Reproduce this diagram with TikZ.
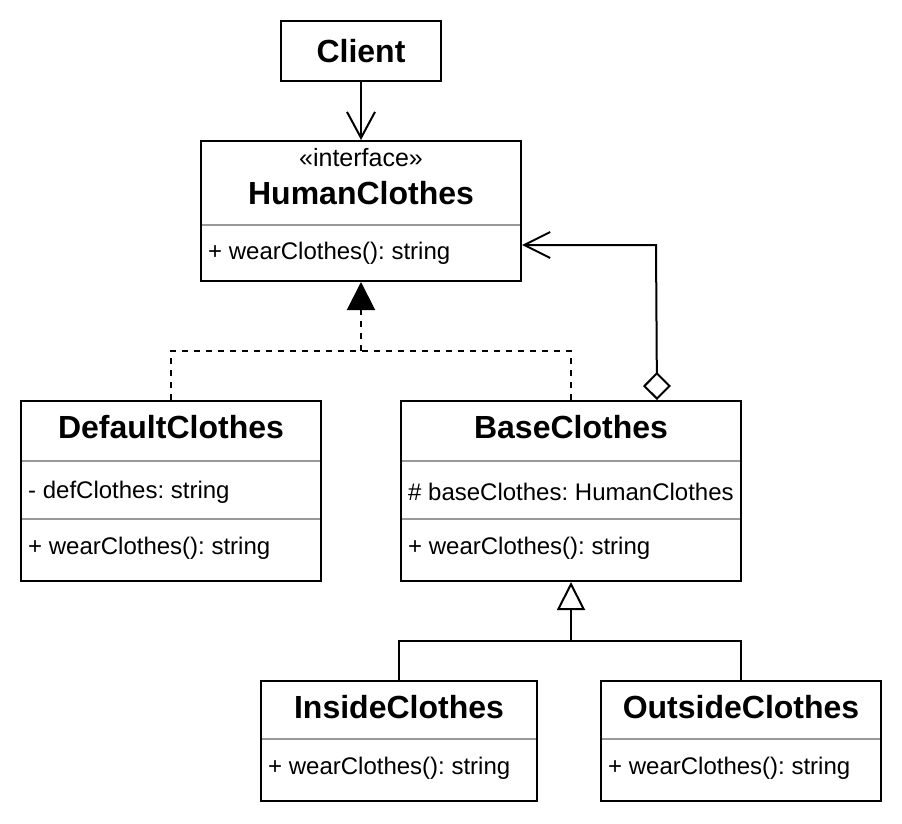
\documentclass[tikz,border=0pt]{standalone}
\usepackage{fontspec}
\setmainfont{Liberation Sans}
\usetikzlibrary{arrows.meta}
\frenchspacing

\begin{document}
\begin{tikzpicture}[x=1pt,y=-1pt]
\tikzset{classbox/.style={draw,line width=2pt,inner sep=0pt},
  classname/.style={font=\bfseries\fontsize{32}{38}\selectfont,inner sep=0pt},
  member/.style={anchor=west,inner sep=0pt,font=\fontsize{24}{28}\selectfont},
  divider/.style={draw=black!40,line width=2pt},
  conn/.style={line width=2pt},
  assoc/.style={conn,-{Straight Barb[length=26pt,width=28pt]}},
  realize/.style={conn,dash pattern=on 6pt off 6pt},
  inherit/.style={conn,-{Triangle[open,length=28pt,width=28pt]}},
  aggr/.style={conn,{Diamond[open,length=28pt,width=28pt]}-{Straight Barb[length=26pt,width=26pt]}}}
\useasboundingbox (0,0) rectangle (902,824);
\node[classbox,minimum width=160pt,minimum height=60pt] (client) at (361,51) {};
\node[classname] (clientname) at (361,51) {Client};
\node[classbox,minimum width=320pt,minimum height=140pt] (human) at (361,211) {};
\node[member,anchor=center,font=\fontsize{25}{28}\selectfont] (humanstereo) at (361,158) {«interface»};
\node[classname] (humanname) at (361,193) {HumanClothes};
\draw[divider] (202,225) -- (520,225);
\node[member] (humanop) at (208,253) {+ wearClothes(): string};
\node[classbox,minimum width=300pt,minimum height=180pt] (defaultc) at (171,491) {};
\node[classname] (defaultname) at (171,427) {DefaultClothes};
\draw[divider] (22,461) -- (320,461);
\node[member] (defaultattr) at (28,492) {- defClothes: string};
\draw[divider] (22,519) -- (320,519);
\node[member] (defaultop) at (28,548) {+ wearClothes(): string};
\node[classbox,minimum width=340pt,minimum height=180pt] (basec) at (571,491) {};
\node[classname] (basename) at (571,427) {BaseClothes};
\draw[divider] (402,461) -- (740,461);
\node[member] (baseattr) at (408,492) {\# baseClothes: HumanClothes};
\draw[divider] (402,519) -- (740,519);
\node[member] (baseop) at (408,548) {+ wearClothes(): string};
\node[classbox,minimum width=276pt,minimum height=120pt] (insidec) at (399,741) {};
\node[classname] (insidename) at (399,707) {InsideClothes};
\draw[divider] (262,739) -- (536,739);
\node[member] (insideop) at (268,768) {+ wearClothes(): string};
\node[classbox,minimum width=280pt,minimum height=120pt] (outsidec) at (741,741) {};
\node[classname] (outsidename) at (741,707) {OutsideClothes};
\draw[divider] (602,739) -- (880,739);
\node[member] (outsideop) at (608,768) {+ wearClothes(): string};
\coordinate (realjoin) at (361,351);
\coordinate (genjoin) at (571,641);
\coordinate (aggtop) at (656,245);
\draw[assoc] (client) -- (human);
\draw[realize] (defaultc.north) |- (realjoin) -| (basec.north);
\draw[realize,-{Triangle[length=28pt,width=28pt]}] (realjoin) -- (human.south);
\draw[conn] (insidec.north) |- (genjoin) -| (outsidec.north);
\draw[inherit] (genjoin) -- (basec.south);
\draw[aggr] ([xshift=-85pt]basec.north east) -- (aggtop) -- (human.east |- aggtop);
\end{tikzpicture}
\end{document}
